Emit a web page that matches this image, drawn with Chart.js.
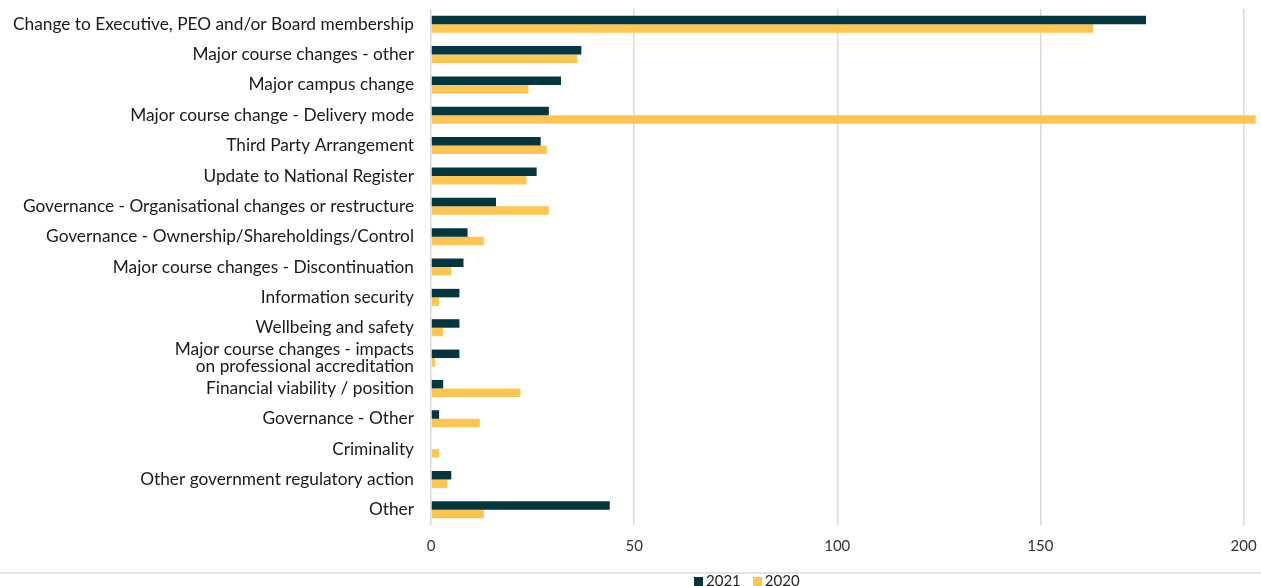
<!DOCTYPE html>
<html>
<head>
<meta charset="utf-8">
<script src="https://cdn.jsdelivr.net/npm/chart.js@4"></script>
<style>
  html, body { margin: 0; padding: 0; background: #fff; overflow: hidden; }
  #wrap { position: relative; width: 1261px; height: 586px; }
  #rule { position: absolute; left: 0; top: 572px; width: 1261px; border-top: 2px solid #e3e3e3; }
  #legend { position: absolute; left: 694px; top: 571px; font: 15px Lato, sans-serif; color: #222; white-space: nowrap; }
  #legend span.box { display: inline-block; width: 9px; height: 9px; margin-right: 3px; }
  #legend span.item { margin-right: 12px; }
</style>
</head>
<body>
<div id="wrap">
  <canvas id="chart"></canvas>
  <div id="rule"></div>
  <div id="legend"></div>
</div>
<script>
// --------------------------
// Data
// --------------------------
const categories = [
  "Change to Executive, PEO and/or Board membership",
  "Major course changes - other",
  "Major campus change",
  "Major course change - Delivery mode",
  "Third Party Arrangement",
  "Update to National Register",
  "Governance - Organisational changes or restructure",
  "Governance - Ownership/Shareholdings/Control",
  "Major course changes - Discontinuation",
  "Information security",
  "Wellbeing and safety",
  ["Major course changes - impacts", "on professional accreditation"],
  "Financial viability / position",
  "Governance - Other",
  "Criminality",
  "Other government regulatory action",
  "Other",
];

const values2021 = [176, 37, 32, 29, 27, 26, 16, 9, 8, 7, 7, 7, 3, 2, 0, 5, 44];
const values2020 = [163, 36, 24, 203, 28.5, 23.5, 29, 13, 5, 2, 3, 1, 22, 12, 2, 4, 13];

const xTicks = [0, 50, 100, 150, 200];

const seriesNames = ["2021", "2020"];
const seriesColors = ["#03363f", "#ffc553"];

// --------------------------
// Chart
// --------------------------
const chart = new Chart(document.getElementById("chart"), {
  type: "bar",
  data: {
    labels: categories,
    datasets: [
      {
        label: seriesNames[0],
        data: values2021,
        backgroundColor: seriesColors[0],
        categoryPercentage: 0.56,
        barPercentage: 1.0,
      },
      {
        label: seriesNames[1],
        data: values2020,
        backgroundColor: seriesColors[1],
        categoryPercentage: 0.56,
        barPercentage: 1.0,
      },
    ],
  },
  options: {
    indexAxis: "y",
    responsive: true,
    maintainAspectRatio: false,
    animation: false,
    layout: { padding: { top: 9, right: 0, bottom: 19, left: 0 } },
    plugins: {
      legend: { display: false },
      tooltip: { enabled: false },
    },
    scales: {
      x: {
        min: 0,
        max: 204.3,
        afterBuildTicks: (axis) => {
          axis.ticks = xTicks.map((v) => ({ value: v }));
        },
        afterFit: (scale) => {
          scale.paddingLeft = 0;
          scale.paddingRight = 0;
        },
        grid: { color: "#d9d9d9", lineWidth: 1.5, drawTicks: false },
        border: { display: false },
        ticks: {
          padding: 12,
          color: "#333",
          font: { family: "Lato, sans-serif", size: 15 },
        },
      },
      y: {
        grid: { display: false, drawTicks: false },
        border: { display: false },
        afterFit: (scale) => {
          scale.width = 431;
          scale.paddingTop = 0;
          scale.paddingBottom = 0;
        },
        ticks: {
          padding: 17,
          color: "#1a1a1a",
          autoSkip: false,
          font: { family: "Lato, sans-serif", size: 17.3, lineHeight: 0.95 },
        },
      },
    },
  },
});

// --------------------------
// Legend
// --------------------------
const legendEl = document.getElementById("legend");
legendEl.innerHTML = seriesNames
  .map(
    (name, i) =>
      `<span class="item"><span class="box" style="background:${seriesColors[i]}"></span>${name}</span>`
  )
  .join("");
</script>
</body>
</html>
